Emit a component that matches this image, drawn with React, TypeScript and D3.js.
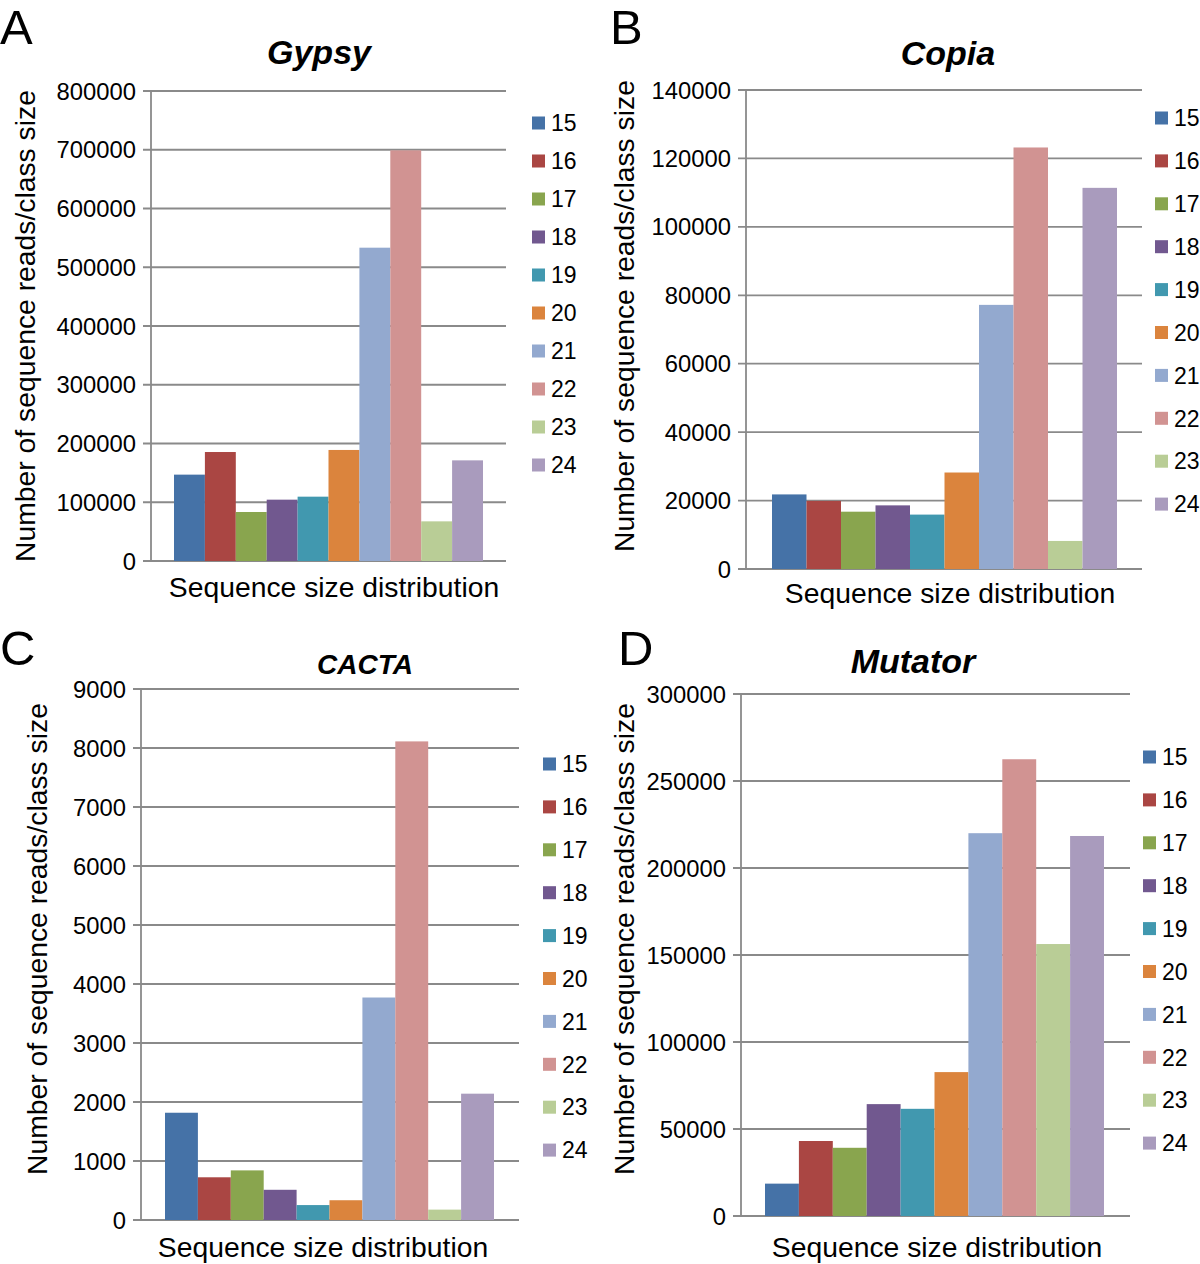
import React from "react";
import * as d3 from "d3";

const sizes = ["15", "16", "17", "18", "19", "20", "21", "22", "23", "24"];
const seriesColors = ["#4572A7", "#AA4643", "#89A54E", "#71588F", "#4198AF", "#DB843D", "#93A9CF", "#D19392", "#B9CD96", "#A99BBD"];

const gypsyValues = [147000, 185500, 83400, 104400, 109500, 189000, 533300, 699000, 67500, 171300];
const copiaValues = [21800, 19900, 16750, 18600, 15900, 28200, 77200, 123200, 8200, 111400];
const cactaValues = [1818, 724, 841, 512, 253, 335, 3771, 8112, 176, 2141];
const mutatorValues = [18600, 43100, 39200, 64300, 61600, 82700, 220000, 262500, 156300, 218400];

const gypsyTicks = [0, 100000, 200000, 300000, 400000, 500000, 600000, 700000, 800000];
const copiaTicks = [0, 20000, 40000, 60000, 80000, 100000, 120000, 140000];
const cactaTicks = [0, 1000, 2000, 3000, 4000, 5000, 6000, 7000, 8000, 9000];
const mutatorTicks = [0, 50000, 100000, 150000, 200000, 250000, 300000];

const titles = ["Gypsy", "Copia", "CACTA", "Mutator"];
const panelLetters = ["A", "B", "C", "D"];
const yTitle = "Number of sequence reads/class size";
const xTitle = "Sequence size distribution";

const FONT = "'Liberation Sans', Arial, Helvetica, sans-serif";
const GRID = "#8a8a8a";

type Layout = {
  axisX: number; right: number; yTop: number; yBottom: number;
  barsL: number; barsR: number;
  letterX: number; letterY: number;
  titleX: number; titleY: number; titleSize: number;
  yTitleX: number; yTitleY: number;
  xTitleX: number; xTitleY: number;
  legX: number; legY0: number; legStep: number;
};

const layouts: Layout[] = [
  { axisX: 151, right: 506, yTop: 91, yBottom: 561, barsL: 174, barsR: 483, letterX: 0, letterY: 44, titleX: 319, titleY: 64, titleSize: 34, yTitleX: 35, yTitleY: 326, xTitleX: 334, xTitleY: 597, legX: 532, legY0: 123, legStep: 38 },
  { axisX: 746, right: 1142, yTop: 90, yBottom: 569, barsL: 772, barsR: 1117, letterX: 610, letterY: 44, titleX: 948, titleY: 65, titleSize: 34, yTitleX: 634, yTitleY: 316, xTitleX: 950, xTitleY: 603, legX: 1155, legY0: 118, legStep: 42.9 },
  { axisX: 141, right: 519, yTop: 689, yBottom: 1220, barsL: 165, barsR: 494, letterX: 0, letterY: 665, titleX: 365, titleY: 674, titleSize: 28, yTitleX: 47, yTitleY: 939, xTitleX: 323, xTitleY: 1257, legX: 543, legY0: 764, legStep: 42.9 },
  { axisX: 741, right: 1130, yTop: 694, yBottom: 1216, barsL: 765, barsR: 1104, letterX: 618, letterY: 665, titleX: 913, titleY: 673, titleSize: 34, yTitleX: 634, yTitleY: 939, xTitleX: 937, xTitleY: 1257, legX: 1143, legY0: 757, legStep: 42.9 },
];

const panelValues = [gypsyValues, copiaValues, cactaValues, mutatorValues];
const panelTicks = [gypsyTicks, copiaTicks, cactaTicks, mutatorTicks];

function Panel({ idx }: { idx: number }) {
  const L = layouts[idx];
  const values = panelValues[idx];
  const ticks = panelTicks[idx];
  const y = d3.scaleLinear().domain([0, ticks[ticks.length - 1]]).range([L.yBottom, L.yTop]);
  const x = d3.scaleBand<string>().domain(sizes).range([L.barsL, L.barsR]).padding(0);
  return (
    <g>
      <text x={L.letterX} y={L.letterY} fontSize={49} fontFamily={FONT} fill="#000">{panelLetters[idx]}</text>
      <text x={L.titleX} y={L.titleY} fontSize={L.titleSize} fontFamily={FONT} fontWeight="bold" fontStyle="italic" textAnchor="middle" fill="#000">{titles[idx]}</text>
      {ticks.map((t) => (
        <g key={t}>
          <line x1={L.axisX - 8} x2={L.right} y1={y(t)} y2={y(t)} stroke={GRID} strokeWidth={1.8} />
          <text x={L.axisX - 15} y={y(t)} dy="0.36em" fontSize={23.8} fontFamily={FONT} textAnchor="end" fill="#000">{t}</text>
        </g>
      ))}
      <line x1={L.axisX} x2={L.axisX} y1={L.yTop} y2={L.yBottom} stroke={GRID} strokeWidth={1.8} />
      {values.map((v, i) => (
        <rect key={i} x={x(sizes[i])} y={y(v)} width={x.bandwidth()} height={L.yBottom - y(v)} fill={seriesColors[i]} />
      ))}
      <text transform={`translate(${L.yTitleX},${L.yTitleY}) rotate(-90)`} fontSize={28.3} fontFamily={FONT} textAnchor="middle" fill="#000">{yTitle}</text>
      <text x={L.xTitleX} y={L.xTitleY} fontSize={28.3} fontFamily={FONT} textAnchor="middle" fill="#000">{xTitle}</text>
      {sizes.map((s, i) => (
        <g key={s}>
          <rect x={L.legX} y={L.legY0 + i * L.legStep - 6.5} width={13} height={13} fill={seriesColors[i]} />
          <text x={L.legX + 19} y={L.legY0 + i * L.legStep} dy="0.36em" fontSize={23} fontFamily={FONT} fill="#000">{s}</text>
        </g>
      ))}
    </g>
  );
}

export default function App() {
  return (
    <svg width={1200} height={1264} style={{ position: "absolute", left: 0, top: 0, background: "#fff" }}>
      <rect x={0} y={0} width={1200} height={1264} fill="#fff" />
      {[0, 1, 2, 3].map((i) => <Panel key={i} idx={i} />)}
    </svg>
  );
}
